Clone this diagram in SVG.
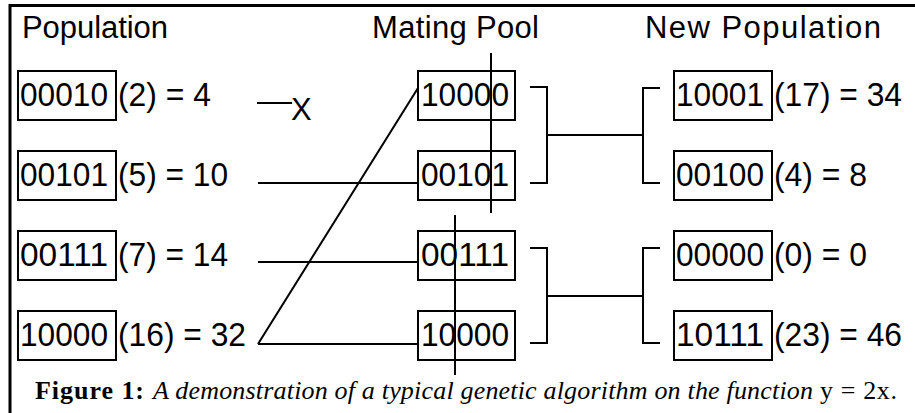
<svg xmlns="http://www.w3.org/2000/svg" width="915" height="413" viewBox="0 0 915 413">
<style>
.box{fill:none;stroke:#000;stroke-width:2}
.bits{font-family:"Liberation Sans",Arial,sans-serif;font-size:34px;fill:#000}
.hdr{font-family:"Liberation Sans",Arial,sans-serif;font-size:31px;fill:#000}
.ln{fill:none;stroke:#000;stroke-width:2}
.frame{fill:none;stroke:#000;stroke-width:3}
.cap{font-family:"Liberation Serif","Times New Roman",serif;font-size:26px;fill:#000}
</style>
<rect width="915" height="413" fill="#fff"/>
<path class="frame" d="M10,413 V5.5 H915"/>
<g id="headers">
<text class="hdr" x="22" y="38" textLength="146">Population</text>
<text class="hdr" x="372" y="38" textLength="167">Mating Pool</text>
<text class="hdr" x="645" y="38" textLength="236">New Population</text>
</g>
<g id="pop1"><rect class="box" x="18" y="71" width="98" height="49"/><text class="bits" x="20" y="106" textLength="88" lengthAdjust="spacingAndGlyphs">00010</text><text class="bits" x="118" y="106" textLength="93" lengthAdjust="spacingAndGlyphs">(2) = 4</text></g>
<g id="pop2"><rect class="box" x="18" y="151" width="98" height="49"/><text class="bits" x="20" y="186" textLength="88" lengthAdjust="spacingAndGlyphs">00101</text><text class="bits" x="118" y="186" textLength="110" lengthAdjust="spacingAndGlyphs">(5) = 10</text></g>
<g id="pop3"><rect class="box" x="18" y="231" width="98" height="49"/><text class="bits" x="20" y="266" textLength="88" lengthAdjust="spacingAndGlyphs">00111</text><text class="bits" x="118" y="266" textLength="110" lengthAdjust="spacingAndGlyphs">(7) = 14</text></g>
<g id="pop4"><rect class="box" x="18" y="311" width="98" height="49"/><text class="bits" x="20" y="346" textLength="88" lengthAdjust="spacingAndGlyphs">10000</text><text class="bits" x="118" y="346" textLength="128" lengthAdjust="spacingAndGlyphs">(16) = 32</text></g>
<g id="mate1"><rect class="box" x="418" y="71" width="97" height="49"/><text class="bits" x="421" y="106" textLength="88" lengthAdjust="spacingAndGlyphs">10000</text></g>
<g id="mate2"><rect class="box" x="418" y="151" width="97" height="49"/><text class="bits" x="421" y="186" textLength="88" lengthAdjust="spacingAndGlyphs">00101</text></g>
<g id="mate3"><rect class="box" x="418" y="231" width="97" height="49"/><text class="bits" x="421" y="266" textLength="88" lengthAdjust="spacingAndGlyphs">00111</text></g>
<g id="mate4"><rect class="box" x="418" y="311" width="97" height="49"/><text class="bits" x="421" y="346" textLength="88" lengthAdjust="spacingAndGlyphs">10000</text></g>
<g id="new1"><rect class="box" x="674" y="71" width="98" height="49"/><text class="bits" x="676" y="106" textLength="88" lengthAdjust="spacingAndGlyphs">10001</text><text class="bits" x="774" y="106" textLength="128" lengthAdjust="spacingAndGlyphs">(17) = 34</text></g>
<g id="new2"><rect class="box" x="674" y="151" width="98" height="49"/><text class="bits" x="676" y="186" textLength="88" lengthAdjust="spacingAndGlyphs">00100</text><text class="bits" x="774" y="186" textLength="93" lengthAdjust="spacingAndGlyphs">(4) = 8</text></g>
<g id="new3"><rect class="box" x="674" y="231" width="98" height="49"/><text class="bits" x="676" y="266" textLength="88" lengthAdjust="spacingAndGlyphs">00000</text><text class="bits" x="774" y="266" textLength="93" lengthAdjust="spacingAndGlyphs">(0) = 0</text></g>
<g id="new4"><rect class="box" x="674" y="311" width="98" height="49"/><text class="bits" x="676" y="346" textLength="88" lengthAdjust="spacingAndGlyphs">10111</text><text class="bits" x="774" y="346" textLength="128" lengthAdjust="spacingAndGlyphs">(23) = 46</text></g>
<g id="connectors">
<path class="ln" d="M257,103 H292"/>
<text class="hdr" x="291" y="120">X</text>
<path class="ln" d="M258,183 H418"/>
<path class="ln" d="M258,262 H418"/>
<path class="ln" d="M258,344 H418"/>
<path class="ln" d="M258,344 L418,88"/>
<path class="ln" d="M491,53 V213"/>
<path class="ln" d="M455,215 V375"/>
<path class="ln" d="M530,87 H547 V183 H530 M547,135 H643 M660,88 H643 V183 H660"/>
<path class="ln" d="M530,248 H547 V343 H530 M547,296 H643 M660,248 H643 V343 H660"/>
</g>
<g id="caption">
<text class="cap" x="35" y="399" font-weight="bold" font-size="27" textLength="109">Figure 1:</text>
<text class="cap" x="153" y="399" font-style="italic" textLength="660">A demonstration of a typical genetic algorithm on the function</text>
<text class="cap" x="820" y="399" textLength="77">y = 2x.</text>
</g>
</svg>
